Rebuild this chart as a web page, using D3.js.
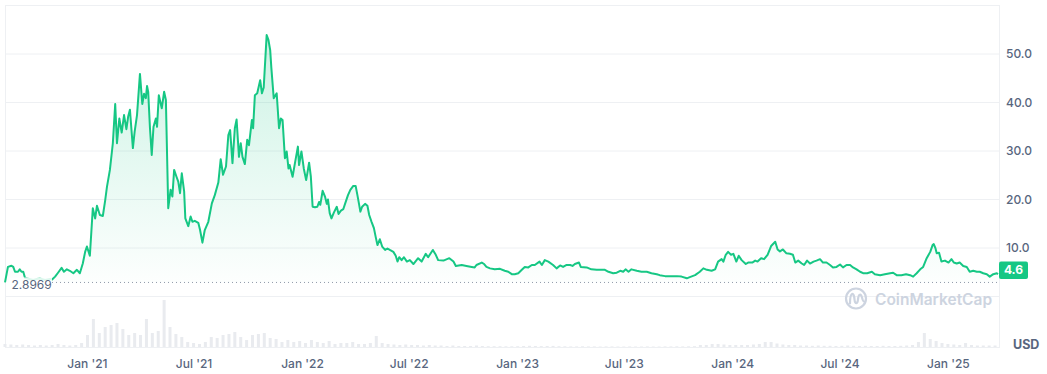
<!DOCTYPE html>
<html>
<head>
<meta charset="utf-8">
<script src="https://cdn.jsdelivr.net/npm/d3@7"></script>
<style>
  body { margin: 0; background: #fff; }
  svg text { font-family: Inter, "Noto Sans", sans-serif; }
</style>
</head>
<body>
<div class="chart"></div>
<script>
// price series (USD)
var priceDates = [
  "2020-08-15","2020-08-20","2020-08-26","2020-08-29","2020-09-01","2020-09-06","2020-09-09","2020-09-12","2020-09-15","2020-09-18",
  "2020-09-25","2020-10-02","2020-10-08","2020-10-13","2020-10-22","2020-10-30","2020-11-03","2020-11-08","2020-11-13","2020-11-19",
  "2020-11-23","2020-11-28","2020-12-03","2020-12-09","2020-12-15","2020-12-20","2020-12-25","2020-12-29","2021-01-01","2021-01-06",
  "2021-01-11","2021-01-15","2021-01-18","2021-01-23","2021-01-28","2021-02-01","2021-02-04","2021-02-09","2021-02-14","2021-02-18",
  "2021-02-21","2021-02-25","2021-03-01","2021-03-05","2021-03-09","2021-03-12","2021-03-15","2021-03-20","2021-03-23","2021-03-27",
  "2021-04-01","2021-04-05","2021-04-08","2021-04-11","2021-04-13","2021-04-15","2021-04-18","2021-04-21","2021-04-24","2021-04-28",
  "2021-04-30","2021-05-03","2021-05-08","2021-05-12","2021-05-15","2021-05-19","2021-05-23","2021-05-26","2021-05-29","2021-06-02",
  "2021-06-05","2021-06-08","2021-06-11","2021-06-15","2021-06-17","2021-06-22","2021-06-26","2021-06-29","2021-07-03","2021-07-09",
  "2021-07-12","2021-07-16","2021-07-20","2021-07-26","2021-08-01","2021-08-06","2021-08-12","2021-08-16","2021-08-20","2021-08-25",
  "2021-08-29","2021-09-01","2021-09-05","2021-09-09","2021-09-12","2021-09-16","2021-09-19","2021-09-22","2021-09-26","2021-09-30",
  "2021-10-03","2021-10-08","2021-10-10","2021-10-13","2021-10-17","2021-10-22","2021-10-25","2021-10-28","2021-11-02","2021-11-05",
  "2021-11-08","2021-11-10","2021-11-14","2021-11-19","2021-11-23","2021-11-26","2021-11-29","2021-12-03","2021-12-06","2021-12-09",
  "2021-12-11","2021-12-16","2021-12-20","2021-12-25","2021-12-27","2021-12-31","2022-01-04","2022-01-08","2022-01-10","2022-01-13",
  "2022-01-16","2022-01-19","2022-01-23","2022-01-27","2022-01-30","2022-02-01","2022-02-05","2022-02-09","2022-02-12","2022-02-14",
  "2022-02-17","2022-02-20","2022-02-24","2022-03-01","2022-03-04","2022-03-08","2022-03-12","2022-03-15","2022-03-20","2022-03-24",
  "2022-03-29","2022-04-02","2022-04-05","2022-04-08","2022-04-10","2022-04-13","2022-04-18","2022-04-22","2022-04-25","2022-04-29",
  "2022-05-03","2022-05-06","2022-05-09","2022-05-13","2022-05-17","2022-05-22","2022-05-26","2022-05-30","2022-06-05","2022-06-09",
  "2022-06-12","2022-06-15","2022-06-19","2022-06-23","2022-06-28","2022-07-03","2022-07-09","2022-07-17","2022-07-23","2022-07-30",
  "2022-08-03","2022-08-11","2022-08-16","2022-08-20","2022-08-29","2022-09-08","2022-09-15","2022-09-19","2022-09-29","2022-10-07",
  "2022-10-16","2022-10-21","2022-10-24","2022-11-02","2022-11-06","2022-11-10","2022-11-16","2022-11-24","2022-12-03","2022-12-11",
  "2022-12-17","2022-12-23","2022-12-28","2023-01-03","2023-01-09","2023-01-14","2023-01-20","2023-01-26","2023-01-31","2023-02-08",
  "2023-02-12","2023-02-17","2023-02-23","2023-03-03","2023-03-09","2023-03-15","2023-03-20","2023-03-26","2023-04-01","2023-04-05",
  "2023-04-09","2023-04-16","2023-04-19","2023-04-29","2023-05-07","2023-05-16","2023-05-24","2023-05-30","2023-06-05","2023-06-13",
  "2023-06-19","2023-06-25","2023-06-30","2023-07-04","2023-07-09","2023-07-14","2023-07-23","2023-07-31","2023-08-09","2023-08-17",
  "2023-08-26","2023-08-31","2023-09-09","2023-09-17","2023-09-29","2023-10-07","2023-10-16","2023-10-21","2023-10-30","2023-11-07",
  "2023-11-13","2023-11-19","2023-11-27","2023-12-03","2023-12-08","2023-12-14","2023-12-17","2023-12-21","2023-12-25","2023-12-30",
  "2024-01-03","2024-01-08","2024-01-12","2024-01-17","2024-01-24","2024-01-28","2024-02-04","2024-02-09","2024-02-13","2024-02-19",
  "2024-02-24","2024-03-01","2024-03-07","2024-03-14","2024-03-18","2024-03-22","2024-03-27","2024-04-02","2024-04-08","2024-04-13",
  "2024-04-17","2024-04-22","2024-04-28","2024-05-02","2024-05-07","2024-05-12","2024-05-18","2024-05-23","2024-05-29","2024-06-03",
  "2024-06-09","2024-06-15","2024-06-20","2024-06-26","2024-07-02","2024-07-07","2024-07-13","2024-07-19","2024-07-24","2024-07-30",
  "2024-08-05","2024-08-10","2024-08-17","2024-08-25","2024-08-30","2024-09-08","2024-09-16","2024-09-25","2024-09-30","2024-10-06",
  "2024-10-14","2024-10-22","2024-10-29","2024-11-03","2024-11-09","2024-11-15","2024-11-20","2024-11-26","2024-12-02","2024-12-06",
  "2024-12-08","2024-12-11","2024-12-13","2024-12-17","2024-12-21","2024-12-27","2025-01-02","2025-01-07","2025-01-11","2025-01-16",
  "2025-01-21","2025-01-27","2025-02-02","2025-02-07","2025-02-13","2025-02-19","2025-02-24","2025-03-02","2025-03-08","2025-03-13",
  "2025-03-19","2025-03-25","2025-03-27"
];
var priceValues = [
  2.9,6.1,6.35,6.1,5.1,5.1,5.6,5.1,5.1,3.8,
  3.6,3.4,3.6,3.7,3.4,3.6,3.5,4.1,4.9,5.9,
  5.1,5.6,5.3,4.8,5.5,4.8,6.8,9.2,10.3,8.4,
  18.2,16.1,18.7,16.8,16.6,19.8,22.6,26.1,31.6,39.7,
  31.6,36.7,33.8,37.4,34.5,37.1,38.5,30.6,34.0,37.4,
  45.9,39.7,41.8,40.9,43.4,42.2,34.7,29.2,35.0,36.7,
  35.0,41.5,38.8,42.2,40.5,18.2,22.0,20.6,26.1,24.7,
  23.7,21.3,25.4,21.6,16.1,14.5,16.5,15.4,15.6,15.2,
  13.7,11.1,13.7,15.4,19.2,20.9,23.5,28.3,25.1,26.8,
  33.3,34.3,27.5,34.7,36.5,28.8,31.6,28.8,27.3,32.3,
  31.2,36.4,34.7,41.5,41.9,44.6,41.9,43.1,53.9,52.9,
  50.8,47.1,40.9,41.9,34.7,36.7,36.4,28.5,29.9,26.4,
  27.1,24.7,27.5,30.9,27.1,29.9,26.4,24.0,25.4,27.6,
  24.7,18.5,18.4,18.5,19.5,18.9,21.8,20.6,19.1,20.0,
  17.2,16.1,17.3,18.5,17.0,17.7,18.0,19.1,20.9,22.0,
  22.8,22.8,20.9,18.9,17.5,18.5,19.1,18.7,16.8,15.4,
  14.1,12.3,10.6,11.8,10.3,9.6,9.9,9.6,9.2,8.4,
  7.2,8.1,7.5,8.1,7.2,7.5,6.7,7.9,7.2,8.8,
  8.1,9.6,8.6,7.5,7.4,7.9,7.2,6.3,6.5,6.3,
  6.1,6.0,6.5,7.0,6.7,6.1,5.8,5.6,5.7,5.3,
  5.1,4.6,4.6,4.8,5.5,6.1,6.0,6.5,6.5,7.2,
  6.5,7.5,7.2,6.5,5.8,6.4,6.1,6.5,6.5,6.3,
  6.7,7.0,6.1,6.0,5.6,5.5,5.5,5.5,5.1,4.8,
  4.9,5.3,5.1,5.6,5.1,5.6,5.3,5.1,5.1,4.8,
  4.6,4.4,4.2,4.2,4.2,4.1,3.75,4.0,4.4,5.1,
  5.8,5.5,5.3,5.6,7.2,7.7,7.2,8.6,9.2,8.6,
  8.8,7.2,8.4,7.5,6.7,7.0,7.0,7.4,7.2,7.9,
  7.7,8.6,10.4,11.3,9.7,9.3,9.7,8.9,8.8,8.6,
  7.0,7.4,6.8,6.5,7.4,6.8,7.2,7.4,7.7,7.0,
  7.0,6.5,6.0,6.1,6.6,6.0,6.5,6.5,6.0,5.6,
  5.1,4.8,4.8,5.1,4.6,4.4,4.6,4.8,4.9,4.4,
  4.4,4.6,4.4,4.1,4.8,5.6,6.1,7.9,9.2,10.6,
  10.8,9.9,8.9,9.0,7.2,7.4,7.0,7.7,7.0,6.8,
  7.0,6.3,6.1,5.1,5.3,5.1,5.1,4.8,4.6,4.1,
  4.6,4.8,4.6
];

// traded volume (billion USD), one bar every 10 days from volumeStart
var volumeStart = "2020-08-15";
var volumeValues = [
  0.6,0.5,0.4,0.5,0.4,0.3,0.4,0.3,0.4,0.6,0.4,0.3,0.4,0.8,
  2.4,5.6,2.8,4.0,4.4,4.8,3.6,2.4,2.8,2.4,5.6,2.8,3.2,9.4,
  4.0,2.6,2.0,1.0,0.8,0.6,1.0,2.0,1.8,2.4,2.6,3.0,2.0,1.4,
  2.4,2.6,2.8,1.8,1.6,1.0,1.4,1.0,1.2,0.8,1.4,1.0,0.8,1.2,
  0.6,0.8,0.8,1.0,0.6,0.6,0.8,2.2,0.8,0.6,0.5,0.4,0.5,0.4,
  0.4,0.3,0.4,0.3,0.3,0.2,0.3,0.2,0.2,0.2,0.3,0.2,0.16,0.16,0.16,
  0.14,0.14,0.16,0.2,0.24,0.2,0.18,0.2,0.22,0.16,0.14,0.12,0.12,0.14,0.12,0.12,0.1,
  0.12,0.12,0.1,0.1,0.12,0.1,0.1,0.12,0.1,0.1,0.12,0.12,0.14,0.12,0.14,0.16,
  0.4,0.4,0.6,0.6,0.5,0.4,0.4,0.4,
  0.4,0.5,0.6,1.0,1.0,0.7,0.5,0.4,0.4,
  0.3,0.3,0.24,0.3,0.24,0.24,0.2,0.24,0.3,0.24,0.2,0.24,0.2,0.2,0.24,0.2,0.2,0.24,0.3,0.4,
  1.0,2.8,1.6,1.2,0.8,0.6,0.5,0.4,0.8,0.4,0.3,0.3,0.3,0.3
];

var yTicks = [10, 20, 30, 40, 50];
var basePrice = 2.8969;
var currentPrice = 4.6;

var width = 1047, height = 374;
var green = "#16c784", gridColor = "#eef0f3", textColor = "#58667e";

var parseDate = d3.timeParse("%Y-%m-%d");
var data = priceDates.map(function(d, i) { return {date: parseDate(d), value: priceValues[i]}; });
var volData = volumeValues.map(function(v, i) {
  return {date: d3.timeDay.offset(parseDate(volumeStart), i * 10), value: v};
});

var svg = d3.select(".chart")
  .append("svg")
  .attr("width", width)
  .attr("height", height);

var x = d3.scaleTime()
  .domain(d3.extent(data, function(d) { return d.date; }))
  .range([5, 998]);

var y = d3.scaleLinear()
  .domain([0, 60])
  .range([296.5, 5.5]);

var yVol = d3.scaleLinear()
  .domain([0, d3.max(volumeValues)])
  .range([347, 300]);

// frame + grid
svg.append("g").attr("class", "grid")
  .selectAll("line")
  .data(yTicks)
  .enter().append("line")
  .attr("x1", 5).attr("x2", 1000)
  .attr("y1", function(d) { return y(d); })
  .attr("y2", function(d) { return y(d); })
  .style("stroke", gridColor);

var frame = svg.append("g").attr("class", "frame").style("stroke", gridColor);
frame.append("line").attr("x1", 5).attr("x2", 1000).attr("y1", 5.5).attr("y2", 5.5);
frame.append("line").attr("x1", 5.5).attr("x2", 5.5).attr("y1", 5).attr("y2", 347);
frame.append("line").attr("x1", 999.5).attr("x2", 999.5).attr("y1", 5).attr("y2", 347);
frame.append("line").attr("x1", 5).attr("x2", 1000).attr("y1", 296.5).attr("y2", 296.5);
frame.append("line").attr("x1", 5).attr("x2", 1000).attr("y1", 347.5).attr("y2", 347.5);

// volume bars
svg.append("g").attr("class", "volume")
  .selectAll("rect")
  .data(volData)
  .enter().append("rect")
  .attr("x", function(d) { return x(d.date) - 1.5; })
  .attr("width", 3)
  .attr("y", function(d) { return yVol(d.value); })
  .attr("height", function(d) { return 347 - yVol(d.value); })
  .style("fill", "#e9ebef");

// watermark
var wm = svg.append("g").attr("class", "watermark").attr("transform", "translate(856,298.5)");
wm.append("circle").attr("r", 10)
  .style("fill", "none").style("stroke", "#cdd4e0").style("stroke-width", 2.2);
wm.append("path")
  .attr("d", "M-6,5 C-6,-7 -2,-7 -1.5,1 C-1,6 1.5,6 2,1 C2.5,-5 5,-5 6,-1 C6.5,1 7,3 8,3")
  .style("fill", "none").style("stroke", "#cdd4e0").style("stroke-width", 2.2)
  .style("stroke-linecap", "round");
wm.append("text")
  .attr("x", 19).attr("y", 6)
  .style("font-size", "15.5px").style("font-weight", 600)
  .style("fill", "#cdd4e0")
  .text("CoinMarketCap");

// area gradient
var grad = svg.append("defs").append("linearGradient")
  .attr("id", "areaGrad")
  .attr("gradientUnits", "userSpaceOnUse")
  .attr("x1", 0).attr("x2", 0)
  .attr("y1", y(54)).attr("y2", y(basePrice));
grad.append("stop").attr("offset", "0%").attr("stop-color", green).attr("stop-opacity", 0.22);
grad.append("stop").attr("offset", "100%").attr("stop-color", green).attr("stop-opacity", 0.01);

var area = d3.area()
  .x(function(d) { return x(d.date); })
  .y0(y(basePrice))
  .y1(function(d) { return y(d.value); });

var line = d3.line()
  .x(function(d) { return x(d.date); })
  .y(function(d) { return y(d.value); });

svg.append("path")
  .datum(data)
  .attr("d", area)
  .style("fill", "url(#areaGrad)");

svg.append("path")
  .datum(data)
  .attr("d", line)
  .style("fill", "none")
  .style("stroke", green)
  .style("stroke-width", 2)
  .style("stroke-linejoin", "round");

// baseline (opening price)
svg.append("line")
  .attr("x1", 52).attr("x2", 999)
  .attr("y1", y(basePrice)).attr("y2", y(basePrice))
  .style("stroke", "#8f98a8")
  .style("stroke-dasharray", "1,3");

svg.append("rect")
  .attr("x", 9).attr("y", y(basePrice) - 5)
  .attr("width", 43).attr("height", 14)
  .style("fill", "#fff").style("opacity", 0.85);

svg.append("text")
  .attr("x", 11.5).attr("y", y(basePrice) + 6.5)
  .style("font-size", "12px").style("fill", textColor)
  .text(basePrice.toFixed(4));

// current price tag
var tagY = Math.min(y(currentPrice) - 8.5, y(basePrice) - 21);
svg.append("rect")
  .attr("x", 999).attr("y", tagY)
  .attr("width", 29).attr("height", 17.5)
  .attr("rx", 2)
  .style("fill", green);
svg.append("text")
  .attr("x", 1013.5).attr("y", tagY + 13)
  .attr("text-anchor", "middle")
  .style("font-size", "12px").style("font-weight", 700)
  .style("fill", "#fff")
  .text(currentPrice.toFixed(1));

// axes
var yAxis = d3.axisRight(y)
  .tickValues(yTicks)
  .tickSize(0)
  .tickPadding(7)
  .tickFormat(d3.format(".1f"));

svg.append("g")
  .attr("class", "y axis")
  .attr("transform", "translate(999,0)")
  .call(yAxis)
  .call(function(g) { g.select(".domain").remove(); })
  .selectAll("text")
  .style("font-size", "12px").style("font-weight", 500)
  .style("fill", textColor)
  .style("font-family", "Inter, sans-serif");

var xAxis = d3.axisBottom(x)
  .ticks(d3.timeMonth.every(6))
  .tickSize(0)
  .tickPadding(9)
  .tickFormat(d3.timeFormat("%b '%y"));

svg.append("g")
  .attr("class", "x axis")
  .attr("transform", "translate(0,350)")
  .call(xAxis)
  .call(function(g) { g.select(".domain").remove(); })
  .selectAll("text")
  .style("font-size", "12px").style("font-weight", 500)
  .style("fill", textColor)
  .style("font-family", "Inter, sans-serif");

svg.append("text")
  .attr("x", 1013).attr("y", 349)
  .style("font-size", "12.5px").style("font-weight", 700)
  .style("fill", textColor)
  .text("USD");
</script>
</body>
</html>
